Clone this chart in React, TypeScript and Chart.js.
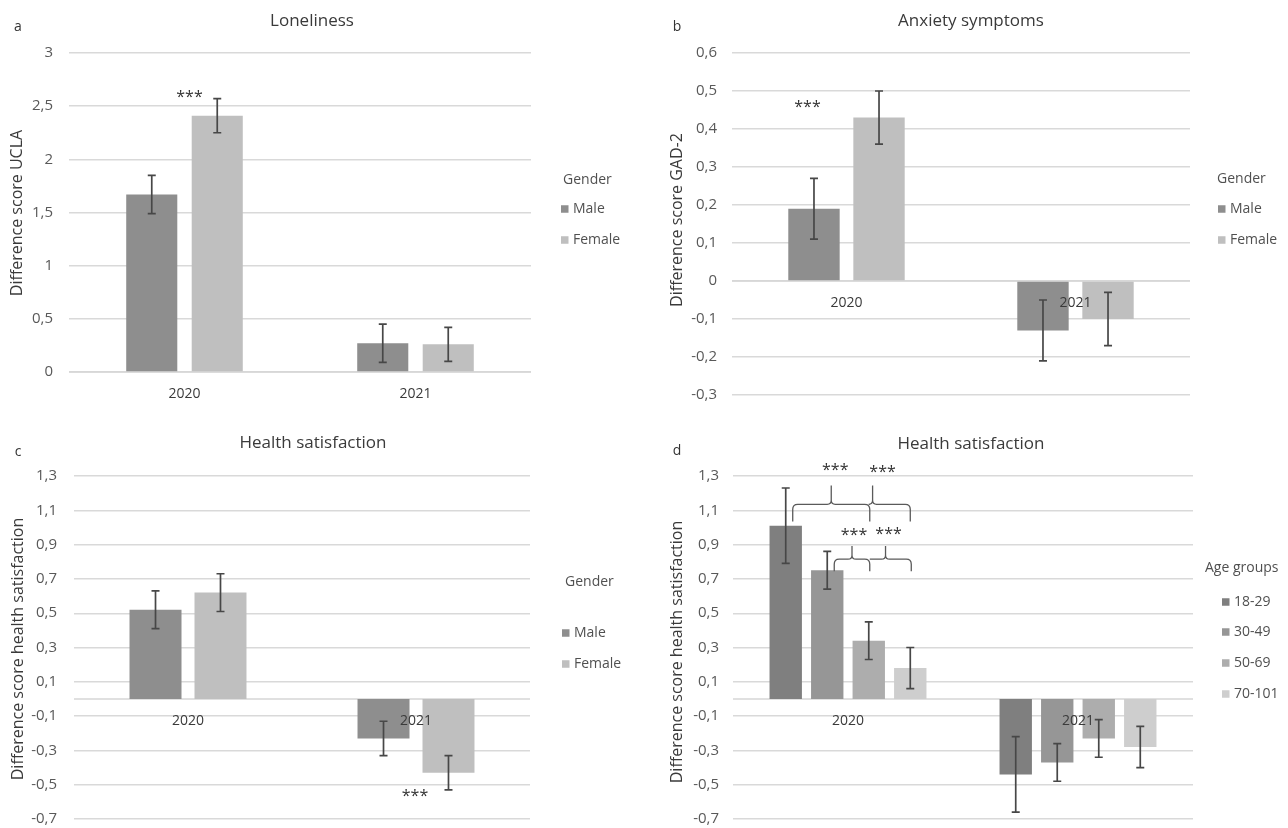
import React, { useEffect, useRef } from 'react';
import { Chart, registerables } from 'chart.js';

Chart.register(...registerables);

const FONT = "'Open Sans', 'Noto Sans', sans-serif";

// ---------- data ----------
const years = ['2020', '2021'];

// a: Loneliness (UCLA)
const lonelinessMale = [1.67, 0.27];
const lonelinessMaleLo = [1.49, 0.09];
const lonelinessMaleHi = [1.85, 0.45];
const lonelinessFemale = [2.41, 0.26];
const lonelinessFemaleLo = [2.25, 0.1];
const lonelinessFemaleHi = [2.57, 0.42];
const lonelinessTicks = [0, 0.5, 1, 1.5, 2, 2.5, 3];

// b: Anxiety symptoms (GAD-2)
const anxietyMale = [0.19, -0.13];
const anxietyMaleLo = [0.11, -0.21];
const anxietyMaleHi = [0.27, -0.05];
const anxietyFemale = [0.43, -0.1];
const anxietyFemaleLo = [0.36, -0.17];
const anxietyFemaleHi = [0.5, -0.03];
const anxietyTicks = [-0.3, -0.2, -0.1, 0, 0.1, 0.2, 0.3, 0.4, 0.5, 0.6];

// c: Health satisfaction by gender
const healthMale = [0.52, -0.23];
const healthMaleLo = [0.41, -0.33];
const healthMaleHi = [0.63, -0.13];
const healthFemale = [0.62, -0.43];
const healthFemaleLo = [0.51, -0.53];
const healthFemaleHi = [0.73, -0.33];
const healthTicks = [-0.7, -0.5, -0.3, -0.1, 0.1, 0.3, 0.5, 0.7, 0.9, 1.1, 1.3];

// d: Health satisfaction by age group
const age1829 = [1.01, -0.44];
const age1829Lo = [0.79, -0.66];
const age1829Hi = [1.23, -0.22];
const age3049 = [0.75, -0.37];
const age3049Lo = [0.64, -0.48];
const age3049Hi = [0.86, -0.26];
const age5069 = [0.34, -0.23];
const age5069Lo = [0.23, -0.34];
const age5069Hi = [0.45, -0.12];
const age70101 = [0.18, -0.28];
const age70101Lo = [0.06, -0.4];
const age70101Hi = [0.3, -0.16];

// ---------- styling ----------
const MALE = '#8e8e8e';
const FEMALE = '#bfbfbf';
const A1 = '#7f7f7f';
const A2 = '#969696';
const A3 = '#adadad';
const A4 = '#cecece';

type Series = { label: string; color: string; values: number[]; lo: number[]; hi: number[] };
type Star = { d1: number; d2: number; idx: number; dx: number; value: number };
type Seg = { a: [number, number]; b: [number, number]; tip: number; hookL: boolean; hookR: boolean; starDx: number; star: number };
type Brace = { y: number; end: number; top: number; segs: Seg[] };

type PanelCfg = {
  left: number; top: number; width: number; height: number;
  letter: string; letterX: number; letterY: number;
  title: string; titleX: number; titleY: number;
  axisTitle: string; axisTitleX: number; axisTitleY: number;
  yMin: number; yMax: number; yTicks: number[];
  yWidth: number; padTop: number; padBottom: number; padRight: number; tickPad: number;
  catPct: number; barPct: number;
  legendTitle: string; legendTitleX: number; legendTitleY: number; legendX: number; legendYs: number[];
  series: Series[];
  stars: Star[];
  braces: Brace[];
};

const fmt = (v: number) => String(Math.round(v * 10) / 10).replace('.', ',');

function drawStars(ctx: CanvasRenderingContext2D, x: number, yc: number) {
  ctx.font = `16px ${FONT}`;
  ctx.fillStyle = '#333333';
  ctx.textAlign = 'center';
  ctx.textBaseline = 'alphabetic';
  const m = ctx.measureText('***');
  const base = yc + (m.actualBoundingBoxAscent - m.actualBoundingBoxDescent) / 2;
  ctx.fillText('***', x, base);
}

function decor(cfg: PanelCfg) {
  return {
    id: 'decor',
    beforeDatasetsDraw(chart: any) {
      const { ctx, chartArea } = chart;
      const y = chart.scales.y.getPixelForValue(0);
      ctx.save();
      ctx.strokeStyle = '#d6d6d6';
      ctx.lineWidth = 1.4;
      ctx.beginPath();
      ctx.moveTo(chartArea.left, y);
      ctx.lineTo(chartArea.right, y);
      ctx.stroke();
      ctx.restore();
    },
    afterDatasetsDraw(chart: any) {
      const { ctx } = chart;
      const ys = chart.scales.y;
      ctx.save();
      // error bars
      ctx.strokeStyle = '#474747';
      ctx.lineWidth = 1.7;
      cfg.series.forEach((s, i) => {
        const meta = chart.getDatasetMeta(i);
        meta.data.forEach((bar: any, j: number) => {
          const x = bar.x;
          const y1 = ys.getPixelForValue(s.lo[j]);
          const y2 = ys.getPixelForValue(s.hi[j]);
          ctx.beginPath();
          ctx.moveTo(x, y1);
          ctx.lineTo(x, y2);
          ctx.moveTo(x - 4, y1);
          ctx.lineTo(x + 4, y1);
          ctx.moveTo(x - 4, y2);
          ctx.lineTo(x + 4, y2);
          ctx.stroke();
        });
      });
      // stars
      cfg.stars.forEach((st) => {
        const b1 = chart.getDatasetMeta(st.d1).data[st.idx];
        const b2 = chart.getDatasetMeta(st.d2).data[st.idx];
        drawStars(ctx, (b1.x + b2.x) / 2 + st.dx, ys.getPixelForValue(st.value));
      });
      // braces
      ctx.strokeStyle = '#5a5a5a';
      ctx.lineWidth = 1.3;
      const r = 5;
      cfg.braces.forEach((br) => {
        const yH = ys.getPixelForValue(br.y);
        const yE = ys.getPixelForValue(br.end);
        const yT = ys.getPixelForValue(br.top);
        br.segs.forEach((sg) => {
          const xa = chart.getDatasetMeta(sg.a[0]).data[0].x + sg.a[1];
          const xb = chart.getDatasetMeta(sg.b[0]).data[0].x + sg.b[1];
          const tx = xa + (xb - xa) * sg.tip;
          ctx.beginPath();
          if (sg.hookL) {
            ctx.moveTo(xa, yE);
            ctx.lineTo(xa, yH + r);
            ctx.quadraticCurveTo(xa, yH, xa + r, yH);
          } else {
            ctx.moveTo(xa, yH);
          }
          ctx.lineTo(tx - 4, yH);
          ctx.quadraticCurveTo(tx, yH, tx, yH - 4);
          ctx.lineTo(tx, yT);
          ctx.lineTo(tx, yH - 4);
          ctx.quadraticCurveTo(tx, yH, tx + 4, yH);
          if (sg.hookR) {
            ctx.lineTo(xb - r, yH);
            ctx.quadraticCurveTo(xb, yH, xb, yH + r);
            ctx.lineTo(xb, yE);
          } else {
            ctx.lineTo(xb, yH);
          }
          ctx.stroke();
          drawStars(ctx, tx + sg.starDx, ys.getPixelForValue(sg.star));
        });
      });
      ctx.restore();
    },
    afterDraw(chart: any) {
      const { ctx } = chart;
      const xs = chart.scales.x;
      const ys = chart.scales.y;
      ctx.save();
      // category labels next to zero line
      ctx.font = `14px ${FONT}`;
      ctx.fillStyle = '#3a3a3a';
      ctx.textAlign = 'center';
      ctx.textBaseline = 'middle';
      const y0 = ys.getPixelForValue(0);
      years.forEach((lab, i) => ctx.fillText(lab, xs.getPixelForValue(i), y0 + 22));
      // title
      ctx.font = `17px ${FONT}`;
      ctx.fillStyle = '#3a3a3a';
      ctx.fillText(cfg.title, cfg.titleX, cfg.titleY);
      // panel letter
      ctx.font = `14px ${FONT}`;
      ctx.fillStyle = '#333333';
      ctx.fillText(cfg.letter, cfg.letterX, cfg.letterY);
      // axis title
      ctx.save();
      ctx.translate(cfg.axisTitleX, cfg.axisTitleY);
      ctx.rotate(-Math.PI / 2);
      ctx.font = `16px ${FONT}`;
      ctx.fillStyle = '#3a3a3a';
      ctx.fillText(cfg.axisTitle, 0, 0);
      ctx.restore();
      // legend
      ctx.textAlign = 'left';
      ctx.font = `14px ${FONT}`;
      ctx.fillStyle = '#505050';
      ctx.fillText(cfg.legendTitle, cfg.legendTitleX, cfg.legendTitleY);
      cfg.series.forEach((s, i) => {
        const y = cfg.legendYs[i];
        ctx.fillStyle = s.color;
        ctx.fillRect(cfg.legendX, y - 3.75, 7.5, 7.5);
        ctx.fillStyle = '#505050';
        ctx.fillText(s.label, cfg.legendX + 12, y);
      });
      ctx.restore();
    },
  };
}

function Panel({ cfg }: { cfg: PanelCfg }) {
  const ref = useRef<HTMLCanvasElement>(null);
  useEffect(() => {
    const canvas = ref.current;
    if (!canvas) return;
    const chart = new Chart(canvas, {
      type: 'bar',
      data: {
        labels: years,
        datasets: cfg.series.map((s) => ({
          label: s.label,
          data: s.values,
          backgroundColor: s.color,
          borderWidth: 0,
          categoryPercentage: cfg.catPct,
          barPercentage: cfg.barPct,
        })),
      },
      options: {
        responsive: false,
        animation: false,
        layout: { padding: { left: 0, top: cfg.padTop, bottom: cfg.padBottom, right: cfg.padRight } },
        plugins: { legend: { display: false }, tooltip: { enabled: false }, title: { display: false } },
        scales: {
          x: { type: 'category', display: false, offset: true },
          y: {
            type: 'linear',
            min: cfg.yMin,
            max: cfg.yMax,
            afterBuildTicks: (s: any) => {
              s.ticks = cfg.yTicks.map((v) => ({ value: v }));
            },
            afterFit: (s: any) => {
              s.width = cfg.yWidth;
              s.paddingTop = 0;
              s.paddingBottom = 0;
            },
            grid: { color: '#d9d9d9', lineWidth: 1.4, drawTicks: false },
            border: { display: false },
            ticks: {
              padding: cfg.tickPad,
              color: '#595959',
              font: { size: 15, family: FONT },
              autoSkip: false,
              callback: (v: any) => fmt(Number(v)),
            },
          },
        },
      } as any,
      plugins: [decor(cfg)],
    });
    return () => chart.destroy();
  }, [cfg]);
  return (
    <canvas
      ref={ref}
      width={cfg.width}
      height={cfg.height}
      style={{ position: 'absolute', left: cfg.left, top: cfg.top, width: cfg.width, height: cfg.height }}
    />
  );
}

const panelA: PanelCfg = {
  left: 0, top: 0, width: 640, height: 414,
  letter: 'a', letterX: 18, letterY: 27,
  title: 'Loneliness', titleX: 312, titleY: 21,
  axisTitle: 'Difference score UCLA', axisTitleX: 17, axisTitleY: 213,
  yMin: 0, yMax: 3, yTicks: lonelinessTicks,
  yWidth: 69, padTop: 53, padBottom: 42, padRight: 109, tickPad: 16,
  catPct: 0.567, barPct: 0.78,
  legendTitle: 'Gender', legendTitleX: 563, legendTitleY: 180, legendX: 561, legendYs: [209, 240],
  series: [
    { label: 'Male', color: MALE, values: lonelinessMale, lo: lonelinessMaleLo, hi: lonelinessMaleHi },
    { label: 'Female', color: FEMALE, values: lonelinessFemale, lo: lonelinessFemaleLo, hi: lonelinessFemaleHi },
  ],
  stars: [{ d1: 0, d2: 1, idx: 0, dx: 5, value: 2.615 }],
  braces: [],
};

const panelB: PanelCfg = {
  left: 640, top: 0, width: 648, height: 414,
  letter: 'b', letterX: 37, letterY: 27,
  title: 'Anxiety symptoms', titleX: 331, titleY: 21,
  axisTitle: 'Difference score GAD-2', axisTitleX: 37, axisTitleY: 220,
  yMin: -0.3, yMax: 0.6, yTicks: anxietyTicks,
  yWidth: 92, padTop: 53, padBottom: 19, padRight: 98, tickPad: 15,
  catPct: 0.568, barPct: 0.79,
  legendTitle: 'Gender', legendTitleX: 577, legendTitleY: 179, legendX: 578, legendYs: [209, 240],
  series: [
    { label: 'Male', color: MALE, values: anxietyMale, lo: anxietyMaleLo, hi: anxietyMaleHi },
    { label: 'Female', color: FEMALE, values: anxietyFemale, lo: anxietyFemaleLo, hi: anxietyFemaleHi },
  ],
  stars: [{ d1: 0, d2: 0, idx: 0, dx: -6.5, value: 0.466 }],
  braces: [],
};

const panelC: PanelCfg = {
  left: 0, top: 414, width: 640, height: 414,
  letter: 'c', letterX: 18, letterY: 38,
  title: 'Health satisfaction', titleX: 313, titleY: 29,
  axisTitle: 'Difference score health satisfaction', axisTitleX: 18, axisTitleY: 235,
  yMin: -0.7, yMax: 1.3, yTicks: healthTicks,
  yWidth: 74, padTop: 62, padBottom: 9, padRight: 110, tickPad: 17,
  catPct: 0.57, barPct: 0.8,
  legendTitle: 'Gender', legendTitleX: 565, legendTitleY: 168, legendX: 562, legendYs: [219, 250],
  series: [
    { label: 'Male', color: MALE, values: healthMale, lo: healthMaleLo, hi: healthMaleHi },
    { label: 'Female', color: FEMALE, values: healthFemale, lo: healthFemaleLo, hi: healthFemaleHi },
  ],
  stars: [{ d1: 0, d2: 1, idx: 1, dx: -1, value: -0.55 }],
  braces: [],
};

const panelD: PanelCfg = {
  left: 640, top: 414, width: 648, height: 414,
  letter: 'd', letterX: 37, letterY: 37,
  title: 'Health satisfaction', titleX: 331, titleY: 30,
  axisTitle: 'Difference score health satisfaction', axisTitleX: 37, axisTitleY: 238,
  yMin: -0.7, yMax: 1.3, yTicks: healthTicks,
  yWidth: 93, padTop: 62, padBottom: 9, padRight: 95, tickPad: 14,
  catPct: 0.722, barPct: 0.78,
  legendTitle: 'Age groups', legendTitleX: 565, legendTitleY: 154, legendX: 582, legendYs: [188, 218, 249, 280],
  series: [
    { label: '18-29', color: A1, values: age1829, lo: age1829Lo, hi: age1829Hi },
    { label: '30-49', color: A2, values: age3049, lo: age3049Lo, hi: age3049Hi },
    { label: '50-69', color: A3, values: age5069, lo: age5069Lo, hi: age5069Hi },
    { label: '70-101', color: A4, values: age70101, lo: age70101Lo, hi: age70101Hi },
  ],
  stars: [],
  braces: [
    {
      y: 1.135, end: 1.035, top: 1.245,
      segs: [
        { a: [0, 7], b: [2, 1], tip: 0.5, hookL: true, hookR: true, starDx: 4, star: 1.355 },
        { a: [2, 1], b: [3, 0], tip: 0.07, hookL: false, hookR: true, starDx: 10, star: 1.34 },
      ],
    },
    {
      y: 0.815, end: 0.745, top: 0.892,
      segs: [
        { a: [1, 7], b: [2, 1], tip: 0.5, hookL: true, hookR: true, starDx: 2, star: 0.972 },
        { a: [2, 1], b: [3, 1], tip: 0.38, hookL: false, hookR: true, starDx: 3, star: 0.982 },
      ],
    },
  ],
};

export default function App() {
  return (
    <div style={{ position: 'absolute', left: 0, top: 0, width: 1288, height: 828, background: '#ffffff', overflow: 'hidden' }}>
      <Panel cfg={panelA} />
      <Panel cfg={panelB} />
      <Panel cfg={panelC} />
      <Panel cfg={panelD} />
    </div>
  );
}
